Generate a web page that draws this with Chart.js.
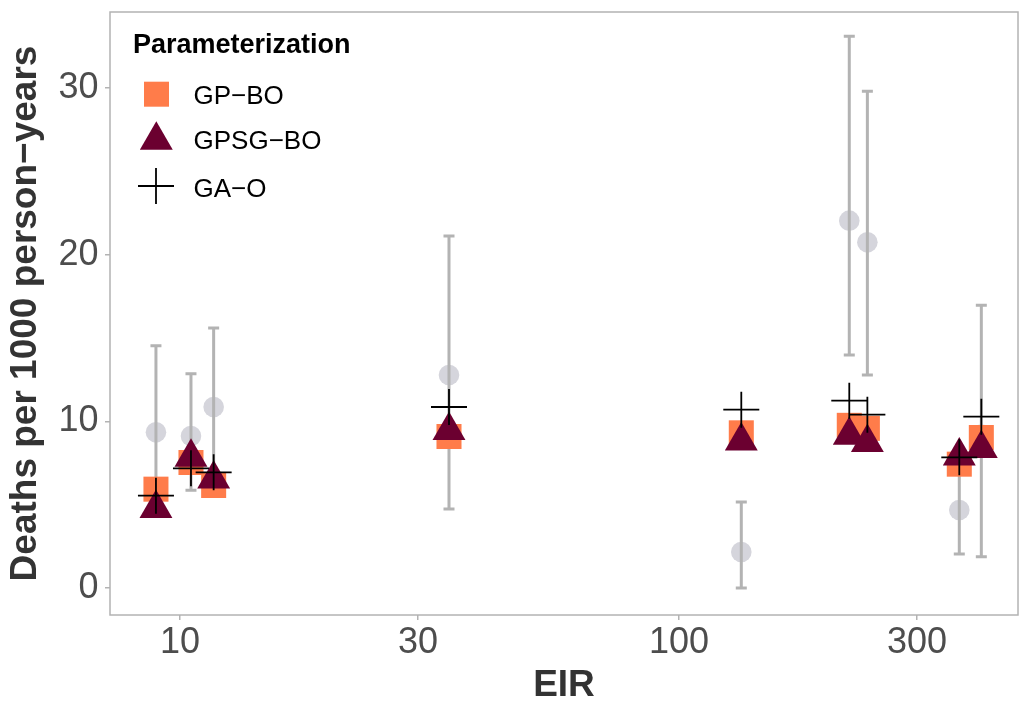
<!DOCTYPE html>
<html><head><meta charset="utf-8">
<script src="https://cdn.jsdelivr.net/npm/chart.js@4/dist/chart.umd.min.js"></script>
<style>html,body{margin:0;padding:0;background:#fff}#wrap{width:1019px;height:704px;position:relative}</style>
</head><body><div id="wrap"><canvas id="c"></canvas></div>
<script>
// ---- data ----
const eir = [8.95, 10.52, 11.68, 34.6, 133.3, 219.4, 238.5, 364.5, 403.5];
const observed = [9.34, 9.12, 10.86, 12.78, 2.16, 22.04, 20.74, 4.68, 9.2];
const observedLow = [4.4, 5.86, 6.1, 4.74, 0, 13.98, 12.78, 2.04, 1.88];
const observedHigh = [14.54, 12.86, 15.6, 21.12, 5.16, 33.1, 29.8, 7.3, 16.96];
const gpBO = [5.93, 7.53, 6.15, 9.09, 9.31, 9.76, 9.58, 7.43, 9.03];
const gpsgBO = [4.77, 7.85, 6.54, 9.45, 8.82, 9.17, 8.73, 7.92, 8.37];
const gaO = [5.54, 7.18, 6.94, 10.86, 10.70, 11.24, 10.40, 7.84, 10.28];
const xTicks = [10, 30, 100, 300];
const yTicks = [0, 10, 20, 30];
const seriesNames = ['GP−BO', 'GPSG−BO', 'GA−O'];
const legendTitle = 'Parameterization';
const xTitle = 'EIR';
const yTitle = 'Deaths per 1000 person−years';

const FONT = "'Liberation Sans', Arial, Helvetica, sans-serif";
const C_SQ = '#ff7c4a', C_TRI = '#6b0030', C_OBS = '#d5d5dc', C_BAR = '#b3b3b3';

function pts(ys){ return eir.map((x,i)=>({x:x, y:ys[i]})); }

const errorBars = {
  id:'errorBars',
  afterDatasetDraw(chart, args){
    if (args.index !== 0) return;
    const xs = chart.scales.x, ys = chart.scales.y, ctx = chart.ctx;
    ctx.save();
    ctx.strokeStyle = C_BAR; ctx.lineWidth = 3; ctx.lineCap = 'butt';
    eir.forEach((e,i)=>{
      const px = xs.getPixelForValue(e);
      const y1 = ys.getPixelForValue(observedLow[i]);
      const y2 = ys.getPixelForValue(observedHigh[i]);
      ctx.beginPath();
      ctx.moveTo(px, y1); ctx.lineTo(px, y2);
      ctx.moveTo(px-5.5, y1); ctx.lineTo(px+5.5, y1);
      ctx.moveTo(px-5.5, y2); ctx.lineTo(px+5.5, y2);
      ctx.stroke();
    });
    ctx.restore();
  }
};

const frameAndLegend = {
  id:'frameAndLegend',
  afterDraw(chart){
    const ctx = chart.ctx, a = chart.chartArea;
    ctx.save();
    ctx.strokeStyle = C_BAR; ctx.lineWidth = 1.5;
    ctx.strokeRect(a.left, a.top, a.right - a.left, a.bottom - a.top);
    // legend
    ctx.fillStyle = '#000';
    ctx.textAlign = 'left'; ctx.textBaseline = 'alphabetic';
    ctx.font = 'bold 27px ' + FONT;
    ctx.fillText(legendTitle, 133, 53);
    // square
    ctx.fillStyle = C_SQ;
    ctx.fillRect(144, 81.7, 25, 25);
    // triangle
    const tx = 156.3, ty = 140.3, r = 19;
    ctx.fillStyle = C_TRI;
    ctx.beginPath();
    ctx.moveTo(tx, ty - r);
    ctx.lineTo(tx + r*Math.sqrt(3)/2, ty + r/2);
    ctx.lineTo(tx - r*Math.sqrt(3)/2, ty + r/2);
    ctx.closePath(); ctx.fill();
    // cross
    ctx.strokeStyle = '#000'; ctx.lineWidth = 1.8;
    ctx.beginPath();
    ctx.moveTo(138, 186); ctx.lineTo(174, 186);
    ctx.moveTo(156, 168); ctx.lineTo(156, 204);
    ctx.stroke();
    ctx.fillStyle = '#000';
    ctx.font = '26px ' + FONT;
    ctx.fillText(seriesNames[0], 193.5, 104.3);
    ctx.fillText(seriesNames[1], 193.5, 149.3);
    ctx.fillText(seriesNames[2], 193.5, 196.7);
    ctx.restore();
  }
};

const gridOpts = {display:true, drawOnChartArea:false, drawTicks:true, tickLength:5, color:C_BAR, lineWidth:1.5};
function noPad(s){ s.paddingLeft = 0; s.paddingRight = 0; s.paddingTop = 0; s.paddingBottom = 0; }

new Chart(document.getElementById('c'), {
  type:'scatter',
  data:{ datasets:[
    {label:'Observed', data:pts(observed), pointStyle:'circle', pointRadius:10.3, backgroundColor:C_OBS, borderWidth:0, order:4},
    {label:seriesNames[0], data:pts(gpBO), pointStyle:'rect', pointRadius:17.7, backgroundColor:C_SQ, borderWidth:0, order:3},
    {label:seriesNames[1], data:pts(gpsgBO), pointStyle:'triangle', pointRadius:19, backgroundColor:C_TRI, borderWidth:0, order:2},
    {label:seriesNames[2], data:pts(gaO), pointStyle:'cross', pointRadius:18, borderColor:'#000', backgroundColor:'#000', borderWidth:1.8, order:1}
  ]},
  options:{
    responsive:true, maintainAspectRatio:false, animation:false, events:[],
    layout:{autoPadding:false, padding:{left:0, top:12, right:1, bottom:0}},
    plugins:{legend:{display:false}, tooltip:{enabled:false}},
    scales:{
      x:{
        type:'logarithmic', min:7.24, max:477.9,
        afterBuildTicks:s=>{ s.ticks = xTicks.map(v=>({value:v})); },
        afterFit:s=>{ s.height = 89; noPad(s); },
        ticks:{callback:v=>String(v), font:{family:FONT, size:36, lineHeight:1}, color:'#4d4d4d', padding:5, autoSkip:false, maxRotation:0},
        grid:gridOpts, border:{display:false},
        title:{display:true, text:xTitle, font:{family:FONT, size:37, weight:'bold', lineHeight:1}, color:'#333', padding:{top:0, bottom:0}}
      },
      y:{
        type:'linear', min:-1.62, max:34.56,
        afterBuildTicks:s=>{ s.ticks = yTicks.map(v=>({value:v})); },
        afterFit:s=>{ s.width = 110; noPad(s); },
        ticks:{font:{family:FONT, size:36, lineHeight:1}, color:'#4d4d4d', padding:6.5},
        grid:gridOpts, border:{display:false},
        title:{display:true, text:yTitle, font:{family:FONT, size:37, weight:'bold', lineHeight:1}, color:'#333', padding:{top:7, bottom:0}}
      }
    }
  },
  plugins:[errorBars, frameAndLegend]
});
</script></body></html>
